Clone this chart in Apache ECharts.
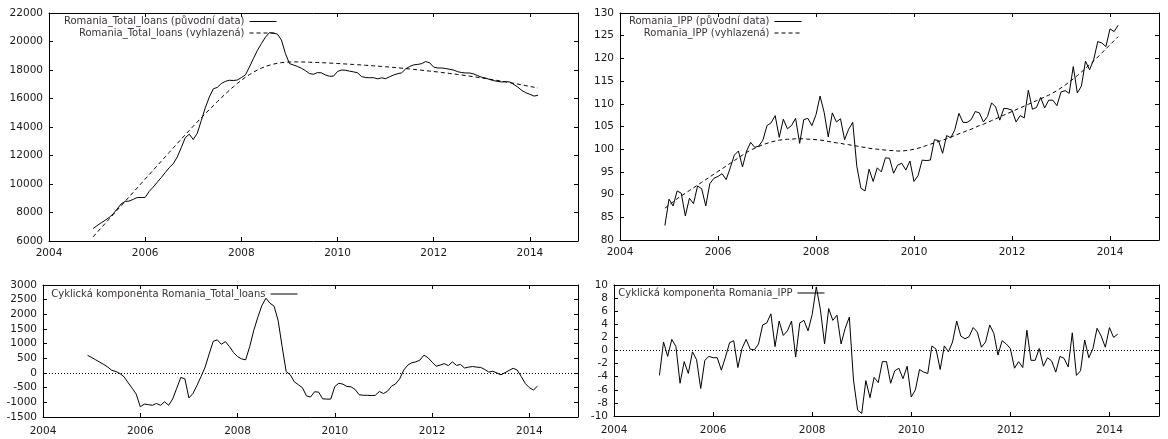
<!DOCTYPE html>
<html>
<head>
<meta charset="utf-8">
<title>Romania – Total loans a IPP</title>
<script src="https://cdn.jsdelivr.net/npm/echarts@6/dist/echarts.min.js"></script>
<style>
  html, body { margin: 0; padding: 0; background: #ffffff; }
  #chart { width: 1168px; height: 439px; }
</style>
</head>
<body>
<div id="chart"></div>
<script>
// Monthly series, first observation December 2004
const START_YEAR = 2004;
const START_MONTH = 12;

const xTicks = [2004, 2006, 2008, 2010, 2012, 2014];

// Romania total loans: original data, HP-smoothed trend, cyclical component
const loansOriginal = [
  6870, 7080, 7270, 7450, 7650, 7900, 8250, 8600, 8780, 8800,
  8920, 9050, 9050, 9060, 9480, 9780, 10120, 10450, 10800, 11150,
  11420, 11900, 12550, 13250, 13500, 13120, 13560, 14450, 15350, 16100,
  16680, 16780, 17050, 17200, 17280, 17260, 17300, 17470, 17650, 18200,
  18800, 19380, 19850, 20300, 20620, 20580, 20520, 20100, 19150, 18450,
  18350, 18250, 18120, 17950, 17750, 17700, 17820, 17800, 17650, 17560,
  17570, 17900, 18000, 17980, 17920, 17870, 17800, 17540, 17470, 17460,
  17460, 17380, 17450, 17390, 17530, 17650, 17740, 17800, 18080, 18250,
  18360, 18390, 18450, 18590, 18500, 18200, 18140, 18140, 18100, 18050,
  17990, 17880, 17820, 17790, 17790, 17720, 17600, 17490, 17430, 17330,
  17250, 17200, 17160, 17180, 17160, 16980, 16800, 16560, 16400, 16300,
  16170, 16220
];
const loansSmoothed = [
  6290, 6602, 6914, 7226, 7538, 7850, 8162, 8474, 8786, 9098,
  9410, 9722, 10034, 10346, 10658, 10970, 11282, 11594, 11906, 12218,
  12530, 12840, 13148, 13454, 13757, 14057, 14354, 14647, 14936, 15220,
  15499, 15777, 16050, 16316, 16574, 16822, 17058, 17280, 17486, 17675,
  17846, 17998, 18130, 18243, 18337, 18413, 18472, 18515, 18544, 18561,
  18568, 18568, 18563, 18556, 18547, 18537, 18526, 18514, 18501, 18487,
  18472, 18456, 18440, 18423, 18406, 18388, 18370, 18351, 18332, 18312,
  18292, 18271, 18250, 18228, 18206, 18181, 18155, 18128, 18100, 18072,
  18043, 18014, 17984, 17954, 17923, 17892, 17860, 17827, 17793, 17758,
  17722, 17685, 17647, 17608, 17568, 17527, 17485, 17442, 17398, 17353,
  17307, 17260, 17212, 17163, 17113, 17062, 17010, 16957, 16903, 16848,
  16792, 16735
];
const loansCycle = [
  600, 530, 450, 370, 290, 200, 90, 50, -20, -130,
  -330, -520, -720, -1150, -1060, -1080, -1100, -1040, -1100, -980,
  -1100, -880, -520, -150, -200, -850, -700, -420, -120, 200,
  650, 1080, 1130, 980, 1070, 900, 700, 560, 480, 450,
  900, 1450, 1900, 2300, 2550, 2380, 2280, 1800, 900, 50,
  -60, -300, -400, -500, -780, -820, -640, -650, -880, -890,
  -890, -460, -350, -380, -460, -470, -560, -740, -760, -760,
  -770, -760, -630, -700, -620, -450, -370, -200, 100, 270,
  350, 380, 440, 610, 520, 370, 230, 270, 320, 250,
  380, 260, 290, 170, 200, 220, 200, 190, 120, 30,
  60, 0, -60, 10, 90, 160, 100, -120, -360, -500,
  -580, -450
];

// Romania industrial production index: original data, HP-smoothed trend, cyclical component
const ippOriginal = [
  83.2, 89.0, 87.5, 90.8, 90.3, 85.3, 89.2, 88.0, 91.9, 91.3,
  87.5, 92.4, 93.6, 94.0, 94.6, 93.3, 95.9, 98.7, 99.6, 96.1,
  99.6, 101.5, 100.4, 100.7, 102.0, 105.2, 105.8, 107.4, 102.6, 106.6,
  104.5, 105.2, 106.8, 101.3, 106.5, 106.8, 105.2, 107.6, 111.7, 108.1,
  102.7, 108.0, 106.0, 106.7, 102.1, 104.4, 105.9, 96.2, 91.4, 90.8,
  95.6, 92.9, 95.9, 95.0, 98.1, 98.0, 94.7, 96.5, 96.9, 95.4,
  97.4, 92.9, 94.2, 97.6, 97.5, 97.6, 102.1, 101.9, 99.1, 103.0,
  102.5, 104.3, 107.9, 105.9, 105.9, 106.5, 108.3, 108.0, 106.0, 107.2,
  110.2, 109.3, 106.4, 109.0, 108.9, 108.6, 106.0, 107.4, 106.9, 113.0,
  108.8, 109.2, 111.4, 109.1, 110.8, 110.8, 109.6, 112.6, 112.9, 112.3,
  118.2, 112.4, 113.9, 119.4, 117.5, 119.7, 123.7, 123.4, 122.6, 126.5,
  125.9, 127.3
];
const ippSmoothed = [
  87.0, 87.7, 88.4, 89.1, 89.7, 90.3, 90.9, 91.5, 92.1, 92.7,
  93.3, 93.9, 94.5, 95.1, 95.7, 96.3, 96.9, 97.5, 98.1, 98.7,
  99.3, 99.8, 100.2, 100.6, 101.0, 101.3, 101.6, 101.8, 102.0, 102.1,
  102.2, 102.2, 102.3, 102.3, 102.3, 102.2, 102.2, 102.1, 102.0, 101.9,
  101.7, 101.6, 101.4, 101.3, 101.1, 101.0, 100.8, 100.7, 100.5, 100.4,
  100.2, 100.1, 100.0, 99.9, 99.8, 99.7, 99.7, 99.6, 99.6, 99.7,
  99.8, 100.0, 100.2, 100.5, 100.8, 101.1, 101.4, 101.7, 102.0, 102.3,
  102.7, 103.0, 103.4, 103.7, 104.1, 104.4, 104.8, 105.2, 105.5, 105.9,
  106.3, 106.7, 107.1, 107.5, 107.9, 108.3, 108.7, 109.1, 109.5, 109.9,
  110.3, 110.7, 111.1, 111.5, 111.9, 112.4, 112.9, 113.5, 114.1, 114.8,
  115.5, 116.2, 117.0, 117.8, 118.6, 119.4, 120.3, 121.2, 122.1, 123.0,
  123.9, 124.8
];
const ippCycle = [
  -3.8, 1.3, -0.9, 1.7, 0.6, -5.0, -1.7, -3.5, -0.2, -1.4,
  -5.8, -1.5, -0.9, -1.1, -1.1, -3.0, -1.0, 1.2, 1.5, -2.6,
  0.3, 1.7, 0.2, 0.1, 1.0, 3.9, 4.2, 5.6, 0.6, 4.5,
  2.3, 3.0, 4.5, -1.0, 4.2, 4.6, 3.0, 5.5, 9.7, 6.2,
  1.0, 6.4, 4.6, 5.4, 1.0, 3.4, 5.1, -4.5, -9.1, -9.6,
  -4.6, -7.2, -4.1, -4.9, -1.7, -1.7, -5.0, -3.1, -2.7, -4.3,
  -2.4, -7.1, -6.0, -2.9, -3.3, -3.5, 0.7, 0.2, -2.9, 0.7,
  -0.2, 1.3, 4.5, 2.2, 1.8, 2.1, 3.5, 2.8, 0.5, 1.3,
  3.9, 2.6, -0.7, 1.5, 1.0, 0.3, -2.7, -1.7, -2.6, 3.1,
  -1.5, -1.5, 0.3, -2.4, -1.1, -1.6, -3.3, -0.9, -1.2, -2.5,
  2.7, -3.8, -3.1, 1.6, -1.1, 0.3, 3.4, 2.2, 0.5, 3.5,
  2.0, 2.5
];

const NAMES = {
  loansOrig: 'Romania_Total_loans (původní data)',
  loansSmooth: 'Romania_Total_loans (vyhlazená)',
  ippOrig: 'Romania_IPP (původní data)',
  ippSmooth: 'Romania_IPP (vyhlazená)',
  loansCycle: 'Cyklická komponenta Romania_Total_loans',
  ippCycle: 'Cyklická komponenta Romania_IPP'
};

function monthlyPoints(values) {
  return values.map((v, i) => [START_YEAR + (START_MONTH - 1 + i) / 12, v]);
}

const FONT = 'DejaVu Sans';
const INK = '#000000';

const grids = [
  { left: 49, top: 13, width: 529, height: 228 },    // loans levels
  { left: 620, top: 13, width: 539, height: 227 },   // IPP levels
  { left: 43, top: 285, width: 535, height: 132 },   // loans cycle
  { left: 614, top: 285, width: 545, height: 131 }   // IPP cycle
];
const yRanges = [
  { min: 6000, max: 22000, interval: 2000 },
  { min: 80, max: 130, interval: 5 },
  { min: -1500, max: 3000, interval: 500 },
  { min: -10, max: 10, interval: 2 }
];

const tickStyle = { show: true, inside: true, length: 4, lineStyle: { color: INK, width: 1 } };
const lineStyleAxis = { show: true, onZero: false, lineStyle: { color: INK, width: 1 } };
const labelStyle = { fontFamily: FONT, fontSize: 10.5, color: '#1a1a1a' };

const xAxis = [];
const yAxis = [];
grids.forEach((g, gi) => {
  const xBase = { type: 'value', gridIndex: gi, min: 2004, max: 2015, interval: 2,
    splitLine: { show: false }, axisLine: lineStyleAxis, axisTick: tickStyle };
  xAxis.push(Object.assign({}, xBase, { position: 'bottom',
    axisLabel: Object.assign({ show: true, margin: gi < 2 ? 7 : 9, showMaxLabel: false,
      formatter: v => (xTicks.indexOf(v) >= 0 ? String(v) : '') }, labelStyle) }));
  xAxis.push(Object.assign({}, xBase, { position: 'top', axisLabel: { show: false } }));
  const r = yRanges[gi];
  const yBase = { type: 'value', gridIndex: gi, min: r.min, max: r.max, interval: r.interval,
    splitLine: { show: false }, axisLine: lineStyleAxis, axisTick: tickStyle };
  yAxis.push(Object.assign({}, yBase, { position: 'left',
    axisLabel: Object.assign({ show: true, margin: 6, formatter: v => String(v) }, labelStyle) }));
  yAxis.push(Object.assign({}, yBase, { position: 'right', axisLabel: { show: false } }));
});

function lineSeries(name, values, gi, dashed) {
  return {
    name: name, type: 'line', xAxisIndex: gi * 2, yAxisIndex: gi * 2,
    data: monthlyPoints(values), symbol: 'none', showSymbol: false, smooth: false,
    lineStyle: { color: INK, width: 1, type: dashed ? [4, 3] : 'solid' },
    itemStyle: { color: INK }, emphasis: { disabled: true }, silent: true
  };
}
function withZeroLine(s) {
  s.markLine = {
    silent: true, symbol: ['none', 'none'], label: { show: false },
    lineStyle: { color: INK, width: 1, type: [1, 2] },
    data: [{ yAxis: 0 }]
  };
  return s;
}

const series = [
  lineSeries(NAMES.loansOrig, loansOriginal, 0, false),
  lineSeries(NAMES.loansSmooth, loansSmoothed, 0, true),
  lineSeries(NAMES.ippOrig, ippOriginal, 1, false),
  lineSeries(NAMES.ippSmooth, ippSmoothed, 1, true),
  withZeroLine(lineSeries(NAMES.loansCycle, loansCycle, 2, false)),
  withZeroLine(lineSeries(NAMES.ippCycle, ippCycle, 3, false))
];

// One legend per entry so the key samples line up at a shared right edge;
// the key shows only the line stroke, no marker
function legendEntry(name, rightEdge, centerY) {
  return {
    data: [name], orient: 'vertical', align: 'right', selectedMode: false,
    right: 1168 - rightEdge, top: centerY - 6, padding: 0, itemGap: 0,
    itemWidth: 27, itemHeight: 12,
    itemStyle: { opacity: 0, borderWidth: 0 },
    lineStyle: { width: 1 },
    textStyle: { fontFamily: FONT, fontSize: 10, color: '#3a333a' }
  };
}
const legend = [
  legendEntry(NAMES.loansOrig, 277, 22.5),
  legendEntry(NAMES.loansSmooth, 277, 34),
  legendEntry(NAMES.ippOrig, 802, 22.5),
  legendEntry(NAMES.ippSmooth, 802, 34),
  legendEntry(NAMES.loansCycle, 298, 295),
  legendEntry(NAMES.ippCycle, 825, 294)
];

const chart = echarts.init(document.getElementById('chart'), null, { renderer: 'canvas' });
chart.setOption({
  backgroundColor: '#ffffff',
  animation: false,
  grid: grids,
  xAxis: xAxis,
  yAxis: yAxis,
  legend: legend,
  series: series
});
</script>
</body>
</html>
